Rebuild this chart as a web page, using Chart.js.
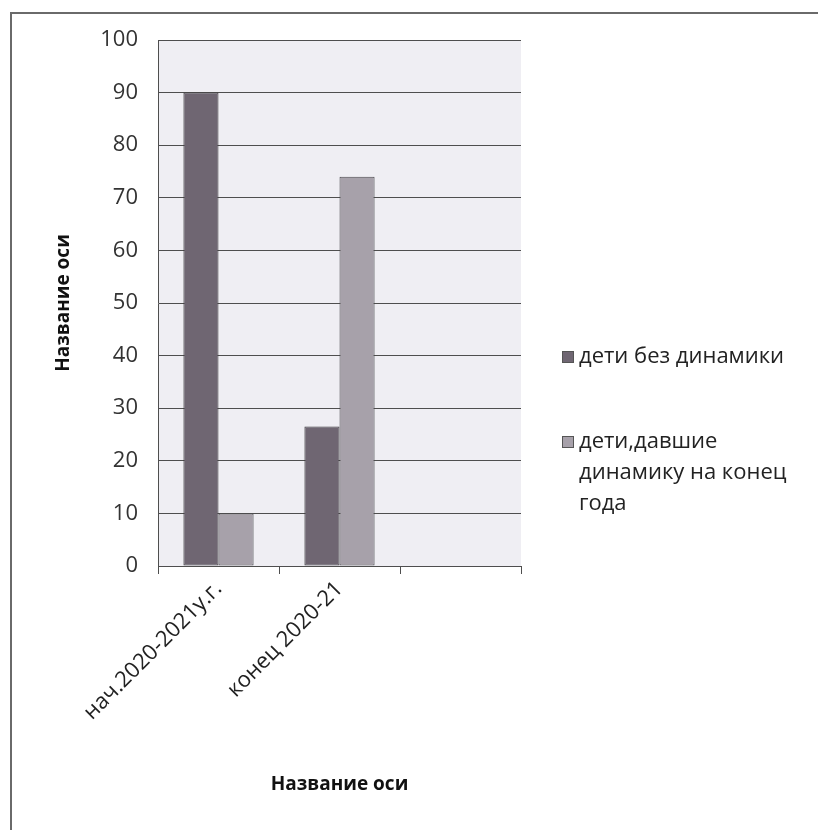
<!DOCTYPE html>
<html>
<head>
<meta charset="utf-8">
<script src="https://cdn.jsdelivr.net/npm/chart.js@4.4.1/dist/chart.umd.min.js"></script>
<style>
  body { margin: 0; background: #ffffff; }
  #rama {
    position: absolute; left: 10px; top: 12px; width: 830px; height: 840px;
    border: 2px solid #6a6a6a; box-sizing: border-box;
  }
  #wrap { position: absolute; left: 0; top: 0; width: 818px; height: 830px; }
</style>
</head>
<body>
<div id="rama"></div>
<div id="wrap"><canvas id="grafico" width="818" height="830"></canvas></div>
<script>
// Datos del gráfico
const categorias = ["нач.2020-2021у.г.", "конец 2020-21", ""];
const sinDinamica = [90, 26.5, null];
const conDinamica = [10, 74, null];
const nombresSeries = ["дети без динамики", ["дети,давшие", "динамику на конец", "года"]];
const ticksY = [0, 10, 20, 30, 40, 50, 60, 70, 80, 90, 100];

const fuente = "'Open Sans', 'Noto Sans', sans-serif";

// Fondo gris del área del gráfico
const fondoArea = {
  id: "fondoArea",
  beforeDraw(chart) {
    const { ctx, chartArea } = chart;
    ctx.save();
    ctx.fillStyle = "#efeef3";
    ctx.fillRect(chartArea.left, chartArea.top, chartArea.right - chartArea.left, chartArea.bottom - chartArea.top);
    ctx.restore();
  }
};

// Leyenda a la derecha, con texto en varias líneas
const leyenda = {
  id: "leyenda",
  afterDraw(chart) {
    const ctx = chart.ctx;
    const posY = [357, 442];
    ctx.save();
    ctx.font = "22px " + fuente;
    ctx.textBaseline = "middle";
    chart.data.datasets.forEach((ds, i) => {
      const y = posY[i];
      ctx.fillStyle = ds.backgroundColor;
      ctx.fillRect(562, y - 6, 12, 12);
      ctx.strokeStyle = "#555";
      ctx.lineWidth = 1;
      ctx.strokeRect(562.5, y - 5.5, 11, 11);
      ctx.fillStyle = "#222";
      const lineas = Array.isArray(nombresSeries[i]) ? nombresSeries[i] : [nombresSeries[i]];
      lineas.forEach((t, j) => ctx.fillText(t, 579, y + j * 31));
    });
    ctx.restore();
  }
};

const ctx = document.getElementById("grafico").getContext("2d");
const grafico = new Chart(ctx, {
  type: "bar",
  data: {
    labels: categorias,
    datasets: [
      {
        label: "дети без динамики",
        data: sinDinamica,
        backgroundColor: "#6f6672",
        borderColor: "#3c3a3e",
        borderWidth: 1,
        borderSkipped: false
      },
      {
        label: "дети,давшие динамику на конец года",
        data: conDinamica,
        backgroundColor: "#a7a1aa",
        borderColor: "#4a484c",
        borderWidth: 1,
        borderSkipped: false
      }
    ]
  },
  options: {
    responsive: false,
    animation: false,
    datasets: { bar: { categoryPercentage: 0.58, barPercentage: 1 } },
    layout: { padding: { left: 48, top: 40, right: 297, bottom: 30 } },
    plugins: { legend: { display: false }, tooltip: { enabled: false } },
    scales: {
      y: {
        min: 0,
        max: 100,
        afterBuildTicks(scale) { scale.ticks = ticksY.map(v => ({ value: v })); },
        afterFit(scale) { scale.width = 110; },
        ticks: { color: "#333", font: { family: fuente, size: 22 }, padding: 20 },
        grid: { color: "#4e4e4e", lineWidth: 1, drawTicks: false },
        border: { color: "#4e4e4e", width: 1 },
        title: {
          display: true,
          text: "Название оси",
          color: "#111",
          font: { family: fuente, size: 19, weight: "bold" }
        }
      },
      x: {
        afterFit(scale) { scale.height = 234; },
        ticks: {
          color: "#222",
          font: { family: fuente, size: 22 },
          minRotation: 45,
          maxRotation: 45,
          padding: 2
        },
        grid: { drawOnChartArea: false, color: "#4e4e4e", tickLength: 8 },
        border: { color: "#4e4e4e", width: 1 },
        title: {
          display: true,
          text: "Название оси",
          color: "#111",
          font: { family: fuente, size: 19, weight: "bold" }
        }
      }
    }
  },
  plugins: [fondoArea, leyenda]
});
</script>
</body>
</html>
